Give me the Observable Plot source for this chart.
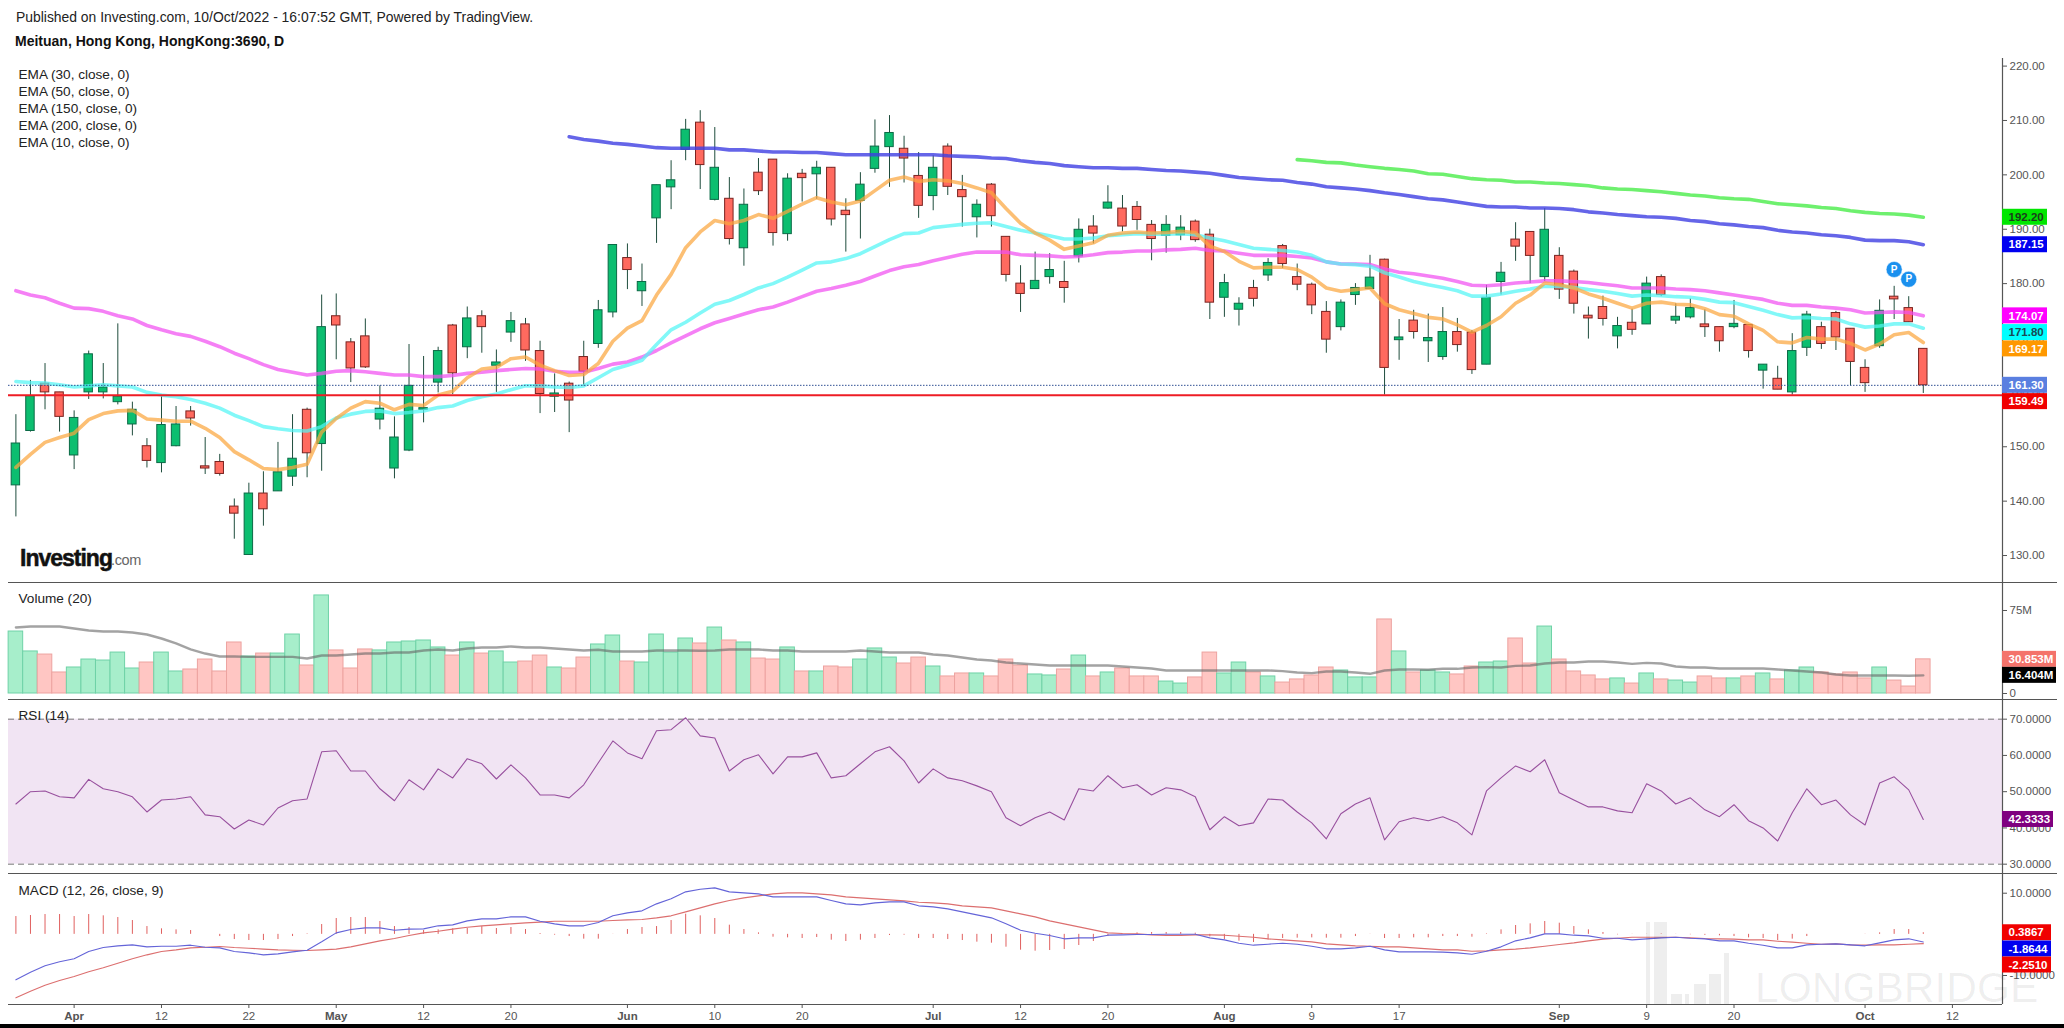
<!DOCTYPE html>
<html>
<head>
<meta charset="utf-8">
<script src="https://cdn.jsdelivr.net/npm/d3@7"></script>
<script src="https://cdn.jsdelivr.net/npm/@observablehq/plot@0.6"></script>
<style>
html,body{margin:0;padding:0;background:#fff;width:2064px;height:1028px;overflow:hidden;font-family:"Liberation Sans",Arial,sans-serif}
.abs{position:absolute;white-space:pre}
.panel{position:absolute;left:0}
.wm{position:absolute;background:rgba(0,0,0,.065);z-index:5}
</style>
</head>
<body>
<div class="abs" style="left:16px;top:9px;font-size:13.9px;color:#222">Published on Investing.com, 10/Oct/2022 - 16:07:52 GMT, Powered by TradingView.</div>
<div class="abs" style="left:15px;top:33px;font-size:14px;font-weight:700;color:#111">Meituan, Hong Kong, HongKong:3690, D</div>
<div id="main" class="panel" style="top:52px"></div>
<div id="volume" class="panel" style="top:582px"></div>
<div id="rsi" class="panel" style="top:699px"></div>
<div id="macd" class="panel" style="top:873px"></div>
<div class="abs" style="left:20px;top:545px;font-size:23px;font-weight:700;letter-spacing:-1px;color:#111;-webkit-text-stroke:.5px #111;z-index:3">Investing</div>
<div class="abs" style="left:111px;top:552px;font-size:14.5px;color:#666;letter-spacing:-.4px;z-index:3">.com</div>
<div class="wm" style="left:1646px;top:922px;width:4px;height:82px"></div>
<div class="wm" style="left:1654px;top:922px;width:13px;height:82px"></div>
<div class="wm" style="left:1671px;top:994px;width:11px;height:10px"></div>
<div class="wm" style="left:1685px;top:994px;width:4px;height:10px"></div>
<div class="wm" style="left:1694px;top:984px;width:12px;height:20px"></div>
<div class="wm" style="left:1709px;top:974px;width:12px;height:30px"></div>
<div class="wm" style="left:1724px;top:953px;width:5px;height:51px"></div>
<div class="abs" style="left:1755px;top:964px;font-size:42.5px;line-height:48px;color:rgba(0,0,0,.065);-webkit-text-stroke:.7px rgba(0,0,0,.03);z-index:5">LONGBRIDGE</div>
<div class="abs" style="left:0;top:1024px;width:2064px;height:4px;background:#000;z-index:6"></div>
<script>
const emaLegend = ["EMA (30, close, 0)","EMA (50, close, 0)","EMA (150, close, 0)","EMA (200, close, 0)","EMA (10, close, 0)"];
const tickIndex = [10,16,28,34,48,54,69,75,89,95,112,118,133];
const tickText = ["12","22","12","20","10","20","12","20","9","17","9","20","12"];
const monthIndex = [4,22,42,63,83,106,127];
const monthText = ["Apr","May","Jun","Jul","Aug","Sep","Oct"];
const priceTicks = [130,140,150,160,170,180,190,200,210,220];
const candleHigh = [
155.9,162.2,165.3,160.0,156.6,167.6,165.3,172.6,158.2,151.5,
159.3,157.4,157.4,151.7,148.6,140.4,143.3,145.4,150.8,155.9,
157.1,177.9,178.1,169.9,173.5,161.2,155.5,168.8,166.6,168.3,
172.5,175.7,175.0,167.8,174.7,173.6,169.4,163.4,161.9,169.4,
176.9,187.1,187.3,183.6,198.1,202.6,210.2,211.8,208.7,199.5,
197.4,203.0,202.8,200.2,201.0,202.5,201.3,195.6,200.4,210.1,
210.9,207.1,204.1,203.5,205.7,199.9,195.4,198.4,188.6,183.3,
185.8,185.5,184.1,191.9,192.5,198.0,196.2,195.1,191.6,192.5,
192.5,191.7,190.0,181.7,177.4,180.6,184.6,187.2,183.6,180.1,
176.7,177.0,180.0,185.2,184.5,173.4,175.1,174.4,175.6,173.6,
171.4,179.7,183.9,191.2,189.5,193.8,186.6,182.5,175.7,177.7,
173.8,175.3,181.2,181.6,176.3,177.2,175.2,172.0,176.9,172.4,
165.1,164.8,170.8,174.9,172.9,174.9,171.7,166.0,177.0,179.5,177.6,168.0];
const candleLow = [
137.1,152.7,156.8,152.7,145.8,158.7,158.8,157.7,152.0,146.1,
145.2,150.0,153.8,144.9,144.6,133.0,130.0,135.4,141.8,142.7,
144.3,145.5,166.0,161.8,164.4,153.1,144.1,149.1,154.4,159.9,
159.6,166.2,167.2,160.0,169.2,165.7,156.1,156.3,152.6,161.1,
168.1,173.7,178.9,175.8,187.4,193.6,202.6,197.3,195.2,187.1,
183.2,196.2,186.9,187.8,195.0,195.5,190.6,185.8,188.2,200.3,
197.7,198.5,192.0,193.4,196.2,190.4,188.4,190.4,180.3,174.7,
179.0,179.9,176.4,183.8,187.3,193.7,189.5,189.8,184.2,185.6,
187.9,187.6,173.4,173.8,172.2,175.7,180.4,182.8,178.7,174.3,
167.2,171.3,176.0,179.0,159.5,165.9,169.8,165.5,165.9,167.4,
163.3,165.1,177.9,184.1,180.0,180.4,177.1,174.4,169.8,172.2,
168.0,170.5,172.5,177.6,172.5,173.5,170.1,167.4,171.7,166.3,
160.6,160.5,159.5,166.6,167.9,167.7,161.2,160.0,168.1,173.4,172.9,159.8];
const candleOpen = [
142.9,152.9,161.6,160.0,148.4,160.0,160.0,158.2,154.1,150.1,
147.0,150.1,156.5,146.4,147.2,139.0,130.1,141.4,141.8,144.5,
156.8,150.5,174.0,169.2,170.3,155.0,146.0,149.3,156.8,161.8,
172.3,168.3,174.0,164.9,171.0,172.5,167.6,159.2,161.6,166.5,
168.9,174.7,184.7,178.6,192.0,197.7,204.6,209.6,195.4,195.6,
186.5,200.4,202.8,189.1,200.2,200.1,201.3,193.4,195.2,201.1,
205.1,204.8,199.8,196.1,205.2,197.2,192.2,198.2,188.6,180.0,
179.0,181.2,180.3,185.0,190.5,193.8,193.8,194.1,190.8,188.8,
188.9,191.4,189.0,177.4,175.2,179.2,181.5,186.9,181.2,179.8,
174.8,172.0,177.9,179.0,184.4,169.6,173.2,169.4,166.5,171.1,
171.0,165.1,180.3,188.1,189.5,181.2,185.1,182.2,174.1,175.7,
170.3,172.8,172.5,181.2,173.2,173.8,172.5,172.0,172.0,172.4,
164.0,162.5,160.0,168.2,172.0,174.6,171.7,164.5,168.5,177.6,175.5,168.0];
const candleClose = [
150.6,159.3,160.0,155.5,155.3,167.0,160.9,159.2,156.8,147.4,
154.0,154.1,155.2,146.0,145.0,137.7,141.4,138.5,145.3,147.8,
148.8,172.0,172.3,164.4,164.6,157.0,151.7,161.2,157.1,167.6,
163.5,173.6,172.0,165.5,173.1,167.7,159.7,159.8,158.5,163.8,
175.1,187.1,182.5,180.3,198.1,199.0,208.3,201.8,201.3,188.2,
194.5,197.0,189.3,199.3,199.4,201.3,191.8,192.6,198.2,205.2,
207.7,203.0,194.3,201.3,197.8,195.9,194.5,192.4,181.6,178.1,
180.5,182.5,179.2,189.9,189.2,194.9,190.5,191.7,188.2,190.8,
190.3,188.0,176.5,180.1,176.3,177.2,183.8,183.6,179.8,176.0,
169.7,176.5,179.2,181.1,164.5,170.1,171.1,170.0,171.1,168.7,
164.1,177.4,182.0,186.8,185.1,189.9,178.9,176.3,173.6,173.5,
172.2,171.5,180.0,177.9,173.9,175.5,172.0,169.4,172.6,167.6,
165.1,160.5,167.6,174.3,168.9,170.1,165.6,161.7,175.0,177.1,172.9,161.3];
const ema10 = [
146.2,148.6,150.8,151.7,152.5,155.0,156.1,156.6,156.7,155.1,
154.9,154.7,154.7,153.4,151.7,149.1,147.6,146.0,145.8,146.2,
146.8,152.7,155.2,157.1,158.3,158.0,156.8,157.8,157.6,159.5,
160.2,162.7,164.3,164.6,166.2,166.5,165.0,164.0,163.1,163.3,
165.3,169.4,171.8,173.2,177.9,181.7,186.6,189.5,191.6,191.0,
191.6,192.7,192.0,193.3,194.6,195.8,195.0,194.5,195.2,197.1,
199.0,199.6,198.8,199.1,198.9,198.4,197.6,196.7,193.8,191.1,
189.3,188.0,186.3,186.9,187.5,188.9,189.3,189.5,189.3,189.4,
189.6,189.4,186.9,185.9,184.1,182.9,183.0,183.0,182.6,181.2,
179.2,178.6,178.9,179.2,176.3,175.2,174.5,173.8,173.5,172.4,
171.1,172.3,173.9,176.4,177.9,180.1,179.8,179.2,178.1,177.3,
176.4,175.5,176.4,176.6,176.2,176.1,175.4,174.3,174.0,172.6,
171.4,169.3,169.1,170.1,169.8,169.8,169.0,167.8,168.9,170.6,171.0,169.17];
const ema30 = [
162.0,161.8,161.7,161.4,161.0,161.2,161.4,161.2,161.0,160.0,
159.5,159.2,158.7,158.0,157.1,155.8,154.8,153.7,153.3,153.0,
152.9,153.7,155.3,156.0,156.5,156.6,156.1,156.3,156.6,157.2,
157.5,158.5,159.2,159.7,160.5,161.2,161.2,161.0,160.9,161.2,
162.7,164.2,165.0,165.9,168.8,171.5,172.9,174.6,176.2,176.9,
178.0,179.2,180.0,181.2,182.5,183.8,184.0,184.6,185.5,186.8,
188.1,189.2,189.3,190.3,190.6,190.9,191.1,191.2,190.5,189.8,
189.3,188.8,188.2,188.2,188.4,188.8,189.0,189.2,189.1,189.1,
189.2,189.0,188.4,187.9,187.2,186.5,186.3,186.1,185.8,185.2,
184.0,183.6,183.5,183.2,182.0,181.2,180.4,179.8,179.3,178.7,
177.7,177.7,178.1,178.6,179.0,179.5,179.5,179.3,178.9,178.6,
178.2,177.7,177.9,177.8,177.6,177.5,177.1,176.6,176.5,175.8,
175.1,174.3,173.7,173.8,173.6,173.5,172.6,172.0,172.2,172.6,172.6,171.8];
const ema50 = [
178.7,177.9,177.4,176.4,175.5,175.4,174.9,174.1,173.5,172.3,
171.5,170.8,170.3,169.4,168.4,167.2,166.2,165.1,164.2,163.7,
163.2,163.5,163.9,164.0,163.8,163.5,163.2,163.2,162.9,162.9,
163.1,163.5,163.7,164.0,164.2,164.4,164.3,163.9,163.7,163.7,
164.4,165.2,165.6,166.5,167.7,169.1,170.4,171.7,172.8,173.6,
174.4,175.2,175.7,176.6,177.6,178.6,179.1,179.7,180.4,181.4,
182.4,183.1,183.5,184.2,184.8,185.4,185.8,185.8,185.8,185.3,
185.2,185.1,184.9,185.0,185.3,185.7,185.8,186.0,186.0,186.2,
186.3,186.5,186.1,186.0,185.6,185.2,185.2,185.2,185.0,184.7,
184.0,183.6,183.6,183.5,182.7,182.1,181.8,181.4,181.0,180.4,
179.7,179.6,179.8,180.1,180.3,180.5,180.5,180.4,180.2,179.9,
179.6,179.2,179.2,179.2,179.0,178.9,178.7,178.3,177.9,177.5,
177.1,176.4,176.0,176.0,175.7,175.5,175.2,174.6,174.7,174.8,174.7,174.07];
const ema150Start = 38;
const ema150 = [
207.0,206.5,206.2,205.8,205.6,205.3,205.0,204.9,204.9,204.9,
204.9,204.6,204.6,204.4,204.2,204.2,204.1,204.1,203.9,203.7,
203.7,203.7,203.7,203.7,203.7,203.7,203.5,203.4,203.3,203.1,
203.0,202.6,202.3,202.1,201.7,201.5,201.3,201.3,201.2,201.2,
201.0,200.8,200.7,200.5,200.3,199.9,199.5,199.3,199.1,199.0,
198.6,198.3,197.8,197.6,197.4,197.1,196.7,196.4,196.0,195.6,
195.4,195.0,194.6,194.2,194.1,194.1,193.9,193.9,193.8,193.6,
193.2,193.0,192.7,192.5,192.3,192.2,192.0,191.6,191.4,191.0,
190.8,190.5,190.3,189.8,189.5,189.3,189.0,188.8,188.5,188.0,
187.9,187.9,187.7,187.15];
const ema200Start = 88;
const ema200 = [
202.8,202.6,202.3,202.2,201.8,201.5,201.2,201.0,200.7,200.2,
200.1,199.7,199.3,199.1,199.0,198.7,198.7,198.5,198.4,198.2,
198.0,197.6,197.4,197.3,197.1,196.9,196.6,196.3,196.1,195.8,
195.6,195.5,195.1,194.7,194.5,194.3,194.0,193.8,193.4,193.1,
192.9,192.8,192.6,192.2];
const supportLevel = 159.49;
const lastClose = 161.30;
const priceTagValue = ["192.20","187.15","174.07","171.80","169.17","161.30","159.49"];
const priceTagAt = [192.2,187.15,174.07,171.0,168.0,161.3,158.3];
const priceTagFill = ["#00e600","#0000f0","#ff00ff","#00ffff","#ff9800","#5a7fe0","#f00000"];
const priceTagText = ["#1c3d1c","#fff","#fff","#1a4a55","#fff","#fff","#fff"];
const pivotIndex = [129,130];
const pivotPrice = [182.6,180.8];
const volume = [
56.0,38.0,35.2,19.0,23.5,30.7,29.8,37.0,22.6,28.0,
37.0,19.9,21.7,30.7,19.9,46.1,33.4,36.1,36.1,53.3,
25.3,88.6,38.9,22.6,39.8,38.9,46.1,47.0,47.9,41.6,
34.3,46.1,36.1,38.0,28.0,28.9,34.3,23.5,22.6,32.5,
44.3,52.4,28.9,28.0,53.3,37.0,49.7,45.2,59.6,47.9,
46.1,31.6,30.7,41.6,19.9,19.9,24.4,23.5,30.7,40.7,
32.5,27.1,32.5,24.4,15.4,18.1,18.1,15.4,30.7,25.3,
17.2,16.3,21.7,34.3,15.4,19.0,22.6,15.4,15.4,10.8,
9.0,14.5,37.0,18.1,28.0,19.0,15.4,9.9,12.7,16.3,
23.5,20.8,14.5,14.5,66.9,38.0,19.0,20.8,19.0,17.2,
24.4,28.0,28.9,49.7,27.1,60.5,30.7,19.9,16.3,12.7,
13.6,9.0,18.1,12.7,11.7,9.9,15.4,13.6,13.6,15.4,
18.1,12.7,20.8,23.5,19.0,17.2,19.0,13.6,23.5,11.7,6.3,30.853];
const volumeMA = [
59.6,60.5,60.5,60.5,58.7,56.9,56.0,56.0,55.1,53.3,
49.7,45.2,39.8,36.1,33.4,33.4,33.1,33.1,33.1,33.1,
31.6,34.3,34.3,35.2,36.1,36.1,37.0,37.0,38.9,39.8,
38.9,40.7,41.6,41.6,42.5,41.6,41.6,40.7,39.8,38.9,
39.5,38.0,38.0,38.0,38.9,38.9,38.9,38.6,38.9,39.8,
39.8,39.8,38.9,38.9,38.0,38.0,38.0,38.0,38.9,38.0,
37.0,37.0,37.0,35.2,34.3,32.5,30.7,29.8,28.0,27.1,
26.2,25.3,25.3,25.3,25.3,25.3,24.4,23.5,22.6,20.8,
20.8,20.8,20.8,20.8,20.8,20.8,20.8,20.2,19.0,18.4,
19.9,19.9,19.0,17.8,20.8,21.7,21.7,21.4,22.3,22.3,
23.5,23.8,23.5,25.0,25.3,27.1,28.0,28.0,28.9,28.9,
28.0,26.8,27.7,27.1,24.4,23.5,23.5,22.6,22.6,22.6,
22.6,21.7,20.8,19.9,19.0,17.2,16.3,16.3,16.3,16.3,16.0,16.404];
const volumeTicks = [0,75];
const volumeTagValue = ["30.853M","16.404M"];
const volumeTagAt = [30.853,16.404];
const volumeTagFill = ["#f4736b","#000"];
const rsi = [
46.6,50.0,50.2,48.6,48.3,53.4,50.8,50.0,48.6,44.4,
47.7,48.0,48.6,43.6,43.1,39.7,42.2,40.8,45.5,47.5,
48.0,61.0,61.3,55.7,55.7,50.8,47.5,53.3,50.5,56.3,
53.8,59.1,57.7,53.5,57.4,53.8,49.1,49.1,48.3,51.9,
58.0,64.0,60.7,59.1,66.8,67.1,70.4,65.4,64.8,55.7,
58.8,60.2,54.9,59.6,59.6,60.7,53.8,54.4,57.7,61.0,
62.4,58.5,52.4,56.3,53.8,53.0,51.6,50.0,42.8,40.6,
42.8,44.4,42.2,50.8,50.2,54.4,51.1,51.9,49.1,51.1,
50.5,48.6,39.5,43.1,40.6,41.4,48.0,47.7,44.4,41.4,
37.0,43.9,46.6,48.3,36.7,41.7,42.8,42.0,43.1,41.4,
38.1,50.2,53.8,57.1,55.5,58.8,49.7,47.7,45.8,45.8,
44.7,44.2,52.2,50.2,46.6,48.3,45.0,43.1,46.4,42.0,
40.0,36.4,44.2,50.8,46.4,47.7,43.6,40.8,52.4,54.1,50.5,42.3333];
const rsiTicks = [30,40,50,60,70];
const macd = [
-11.05,-9.19,-7.65,-6.68,-5.95,-4.17,-3.2,-2.79,-2.55,-3.04,
-2.88,-2.88,-2.63,-3.12,-3.28,-4.17,-4.5,-4.98,-4.74,-4.25,
-3.85,-1.82,0.36,1.17,1.58,1.58,1.01,1.26,1.34,2.07,
2.31,3.28,3.77,3.77,4.25,4.25,3.2,2.55,2.07,2.07,
2.88,4.5,5.22,5.71,7.41,8.63,10.33,10.98,11.3,10.33,
10.08,9.84,9.11,9.11,9.11,9.11,8.22,7.41,7.17,7.65,
7.9,7.9,6.93,6.68,6.2,5.47,4.74,4.01,2.55,1.01,
0.28,-0.28,-1.09,-0.85,-0.85,-0.2,-0.12,-0.04,-0.04,0.04,
0.04,0.04,-0.85,-1.34,-2.15,-2.63,-2.39,-2.15,-2.39,-2.88,
-3.52,-3.52,-3.28,-2.88,-3.77,-4.25,-4.25,-4.25,-4.33,-4.5,
-4.82,-4.09,-3.04,-1.58,-0.85,0.12,0.12,-0.2,-0.36,-0.93,
-0.93,-1.34,-1.09,-0.85,-0.69,-0.93,-1.09,-1.58,-1.58,-2.15,
-2.63,-3.28,-3.28,-2.55,-2.39,-2.31,-2.55,-2.79,-2.07,-1.34,-1.09,-1.8644];
const macdSignal = [
-15.43,-13.81,-12.35,-11.22,-10.25,-9.11,-8.14,-7.01,-5.95,-4.98,
-4.17,-3.77,-3.28,-3.12,-2.96,-3.2,-3.36,-3.6,-3.77,-3.85,
-3.93,-3.77,-3.6,-3.04,-2.31,-1.58,-1.01,-0.28,0.36,0.77,
1.26,1.74,2.07,2.31,2.55,2.79,2.96,3.2,3.2,3.2,
3.2,3.36,3.52,3.6,4.01,4.5,5.47,6.44,7.41,8.22,
8.87,9.36,9.84,10.08,10.08,9.84,9.6,9.11,8.87,8.63,
8.38,8.14,7.82,7.65,7.41,6.93,6.68,6.44,5.71,4.98,
4.25,3.28,2.55,1.82,1.09,0.36,0.2,0.12,-0.12,-0.28,
-0.28,-0.12,-0.12,-0.2,-0.45,-0.69,-1.09,-1.34,-1.58,-1.82,
-2.31,-2.55,-2.79,-2.88,-3.04,-3.04,-3.28,-3.52,-3.77,-3.77,
-4.09,-4.01,-3.77,-3.6,-3.28,-2.88,-2.47,-2.07,-1.58,-1.17,
-0.93,-0.69,-0.69,-0.69,-0.69,-0.85,-1.01,-1.09,-1.17,-1.34,
-1.34,-1.66,-1.9,-2.15,-2.39,-2.31,-2.55,-2.63,-2.55,-2.55,-2.39,-2.251];
const macdHist = [
4.33,4.58,4.82,4.82,4.33,4.82,4.5,4.09,3.36,1.9,
1.34,1.09,0.93,0,-0.53,-1.26,-1.5,-1.5,-1.26,-0.53,
0.12,2.39,3.85,4.09,4.09,3.12,1.9,1.66,0.93,1.09,
1.34,1.42,1.9,1.42,1.66,1.17,0.2,-0.2,-0.53,-1.17,
-1.17,-0.04,1.17,1.66,1.9,3.36,4.9,4.5,3.85,2.23,
1.17,0.36,-0.69,-0.85,-1.01,-0.77,-1.42,-1.74,-1.42,-1.01,
-0.28,-0.2,-1.01,-1.01,-1.26,-1.5,-1.9,-2.15,-3.12,-3.85,
-4.09,-3.93,-3.69,-2.71,-1.74,-0.53,0.04,0.36,0.45,0.45,
0.45,0.28,-0.61,-1.26,-1.66,-1.98,-1.34,-1.01,-0.93,-0.85,
-0.93,-0.93,-0.53,-0.04,-1.01,-1.01,-0.85,-0.85,-0.53,-0.53,
-0.69,0.12,1.09,2.15,2.55,3.12,2.71,1.9,1.09,0.45,
-0.12,-0.04,-0.04,0.12,-0.04,-0.1,-0.24,-0.36,-0.53,-0.85,
-1.01,-1.5,-1.17,-0.53,0,0,0,0.04,0.36,1.17,1.17,0.3867];
const macdTicks = [-10,10];
const macdTagValue = ["0.3867","-1.8644","-2.2510"];
const macdTagAt = [0.3867,-3.56,-7.45];
const macdTagFill = ["#f00000","#0000f0","#f00000"];

const n = candleHigh.length;
const rows = d3.range(n).map(i => ({
  i, high:candleHigh[i], low:candleLow[i], open:candleOpen[i], close:candleClose[i],
  up:candleClose[i] >= candleOpen[i], ema10:ema10[i], ema30:ema30[i], ema50:ema50[i],
  ema150:i>=ema150Start?ema150[i-ema150Start]:null, ema200:i>=ema200Start?ema200[i-ema200Start]:null,
  vol:volume[i], volMA:volumeMA[i], rsi:rsi[i], macd:macd[i], sig:macdSignal[i], hist:macdHist[i], zero:0
}));

const W = 2064, xMin = -0.508, xMax = 136.44, pxX = 14.56;
const fontFamily = '"Liberation Sans",Arial,sans-serif';
const AX = "#555";
const extX = xMax + 55/pxX;
function tags(values, at, fills, texts, widthPx, pxY){
  const d = values.map((v,j)=>({v, at:at[j], fill:fills[j], text:texts?texts[j]:"#fff"}));
  return [
    Plot.rect(d,{x1:xMax,x2:xMax+widthPx/pxX,y1:e=>e.at-8/pxY,y2:e=>e.at+8/pxY,fill:e=>e.fill}),
    Plot.text(d,{x:xMax+6/pxX,y:"at",text:"v",fill:e=>e.text,textAnchor:"start",fontSize:11.5,fontWeight:700})
  ];
}
function base(h, dom, marks, bottom=0){
  return Plot.plot({
    width:W, height:h, marginLeft:8, marginRight:62, marginTop:0, marginBottom:bottom,
    style:{background:"transparent",overflow:"visible",maxWidth:"none",fontFamily},
    x:{domain:[xMin,xMax],axis:null}, y:{domain:dom,axis:null},
    marks
  });
}
const sep = (v)=>Plot.ruleY([v],{x1:xMin,x2:extX,stroke:AX,strokeWidth:1.2});
const axisV = (y1,y2)=>Plot.ruleX([xMax],{y1,y2,stroke:AX,strokeWidth:1.2});
const yAxis = (ticks,fmt)=>Plot.axisY({anchor:"right",ticks,tickFormat:fmt,tickSize:4,tickPadding:3,fontSize:11.5,color:AX,stroke:AX,label:null});
const panelText = (t,dy)=>Plot.text([t],{text:d=>d,frameAnchor:"top-left",dx:10,dy,textAnchor:"start",lineAnchor:"middle",fontSize:13.6,fill:"#222"});

const priceDom = [125.04,222.5], pxP = 5.4375;
const lineOpacity = .72, lineWidth = 3.6;
document.getElementById("main").append(base(530,priceDom,[
  Plot.ruleX(rows,{x:"i",y1:"low",y2:"high",stroke:"#1f4d3d",strokeWidth:1}),
  Plot.rect(rows,{x1:d=>d.i-.29,x2:d=>d.i+.29,y1:"open",y2:"close",fill:d=>d.up?"#0cbe70":"#ff6a5f",stroke:d=>d.up?"#0b6a46":"#7a2320",strokeWidth:1}),
  Plot.line(rows,{x:"i",y:"ema50",stroke:"#f14ff1",strokeWidth:lineWidth,strokeOpacity:lineOpacity}),
  Plot.line(rows,{x:"i",y:"ema30",stroke:"#52f5f5",strokeWidth:lineWidth,strokeOpacity:lineOpacity}),
  Plot.line(rows,{x:"i",y:"ema10",stroke:"#fba63e",strokeWidth:lineWidth,strokeOpacity:lineOpacity}),
  Plot.line(rows,{x:"i",y:"ema150",stroke:"#3f3ee2",strokeWidth:lineWidth,strokeOpacity:.8}),
  Plot.line(rows,{x:"i",y:"ema200",stroke:"#4aec4a",strokeWidth:lineWidth,strokeOpacity:.8}),
  Plot.ruleY([lastClose],{x1:xMin,x2:xMax,stroke:"#2f4f92",strokeWidth:1,strokeDasharray:"1.5,1.5"}),
  Plot.ruleY([supportLevel],{x1:xMin,x2:xMax,stroke:"#ee1c25",strokeWidth:2}),
  Plot.dot(pivotIndex.map((p,j)=>({p,v:pivotPrice[j]})),{x:"p",y:"v",r:8,fill:"#1a90ee",stroke:"#fff",strokeWidth:.5}),
  Plot.text(pivotIndex.map((p,j)=>({p,v:pivotPrice[j]})),{x:"p",y:"v",text:()=>"P",fill:"#fff",fontSize:10,fontWeight:700}),
  ...emaLegend.map((t,j)=>panelText(t,22+17*j)),
  axisV(priceDom[0],221.4),
  yAxis(priceTicks,d=>d.toFixed(2)),
  ...tags(priceTagValue,priceTagAt,priceTagFill,priceTagText,45,pxP),
  sep(priceDom[0])
]));

const volDom = [-5.42,100.3], pxV = 1.107;
document.getElementById("volume").append(base(117,volDom,[
  Plot.rect(rows,{x1:d=>d.i-.5,x2:d=>d.i+.5,y1:"zero",y2:"vol",fill:d=>d.up?"#a7eecb":"#ffc6c3",stroke:d=>d.up?"#6fd2a7":"#eda3a0",strokeWidth:1}),
  Plot.line(rows,{x:"i",y:"volMA",stroke:"#666",strokeWidth:2.4,strokeOpacity:.6}),
  panelText("Volume (20)",16),
  axisV(volDom[0],volDom[1]),
  yAxis(volumeTicks,d=>d===0?"0":d+"M"),
  ...tags(volumeTagValue,volumeTagAt,volumeTagFill,null,54,pxV),
  sep(volDom[0])
]));

const rsiDom = [27.43,75.43], pxR = 3.625;
document.getElementById("rsi").append(base(174,rsiDom,[
  Plot.rect([0],{x1:xMin,x2:xMax,y1:30,y2:70,fill:"#f1e4f3"}),
  Plot.ruleY([30,70],{x1:xMin,x2:xMax,stroke:"#777",strokeWidth:1,strokeDasharray:"6,4"}),
  Plot.line(rows,{x:"i",y:"rsi",stroke:"#98509e",strokeWidth:1.1}),
  panelText("RSI (14)",16),
  axisV(rsiDom[0],rsiDom[1]),
  yAxis(rsiTicks,d=>d.toFixed(4)),
  ...tags(["42.3333"],[42.3333],["#7f007f"],null,51,pxR),
  sep(rsiDom[0])
]));

const macdDom = [-17.05,14.79], pxM = 4.115;
document.getElementById("macd").append(base(151,macdDom,[
  Plot.ruleX(rows,{x:"i",y1:"zero",y2:"hist",stroke:"#e0605f",strokeWidth:1}),
  Plot.line(rows,{x:"i",y:"sig",stroke:"#dc6f6f",strokeWidth:1.1}),
  Plot.line(rows,{x:"i",y:"macd",stroke:"#6464d8",strokeWidth:1.1}),
  panelText("MACD (12, 26, close, 9)",17),
  axisV(macdDom[0],macdDom[1]),
  yAxis(macdTicks,d=>d.toFixed(4)),
  ...tags(macdTagValue,macdTagAt,macdTagFill,null,49,pxM),
  Plot.ruleY([macdDom[0]],{x1:xMin,x2:xMax,stroke:AX,strokeWidth:1.2}),
  Plot.axisX({anchor:"bottom",ticks:tickIndex,tickFormat:d=>tickText[tickIndex.indexOf(d)],tickSize:4,tickPadding:3,fontSize:11.5,color:AX,stroke:AX,label:null}),
  Plot.axisX({anchor:"bottom",ticks:monthIndex,tickFormat:d=>monthText[monthIndex.indexOf(d)],tickSize:4,tickPadding:3,fontSize:11.5,fontWeight:700,color:AX,stroke:AX,label:null})
],20));
</script>
</body>
</html>
